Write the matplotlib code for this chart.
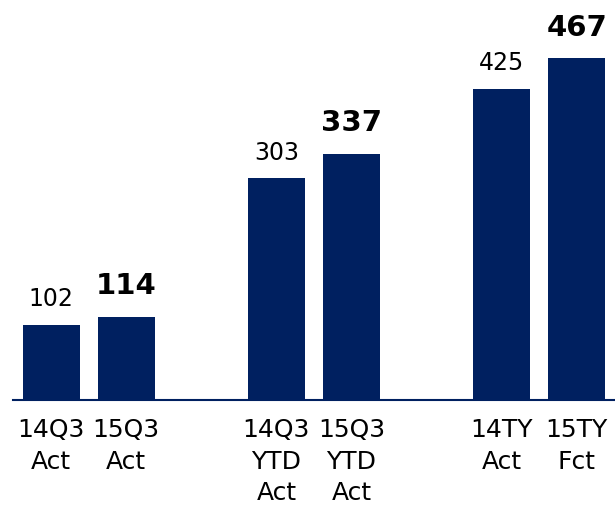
import matplotlib
matplotlib.use("Agg")
import matplotlib.pyplot as plt
import numpy as np

plt.rcParams["font.family"] = ["DejaVu Sans"]

LABELS = ["14Q3\nAct", "15Q3\nAct", "14Q3\nYTD\nAct", "15Q3\nYTD\nAct", "14TY\nAct", "15TY\nFct"]
VALUES = [102, 114, 303, 337, 425, 467]
BOLD = [False, True, False, True, False, True]
POS = [0, 1, 3, 4, 6, 7]

NAVY = "#002060"

fig = plt.figure(figsize=(6.15, 5.05), dpi=100)
ax = fig.add_axes([0.021, 0.208, 0.979, 0.792])

bars = ax.bar(POS, VALUES, width=0.76, color=NAVY)

# value labels: bold for the 15 figures
for x, v, b in zip(POS, VALUES, BOLD):
    ax.annotate(str(v), (x, v), xytext=(0, 12 if b else 10), textcoords="offset points",
                ha="center", va="bottom",
                fontsize=21 if b else 17,
                fontweight="bold" if b else "normal", color="black")

ax.set_xlim(-0.51, 7.51)
ax.set_ylim(0, 547)
ax.set_xticks(POS)
ax.set_xticklabels(LABELS, fontsize=18, linespacing=1.4)
ax.set_yticks([])
ax.tick_params(axis="x", length=0, pad=13)
for s in ["top", "right", "left"]:
    ax.spines[s].set_visible(False)
ax.spines["bottom"].set_color(NAVY)
ax.spines["bottom"].set_linewidth(1.5)

fig.savefig("out.png", dpi=100)
